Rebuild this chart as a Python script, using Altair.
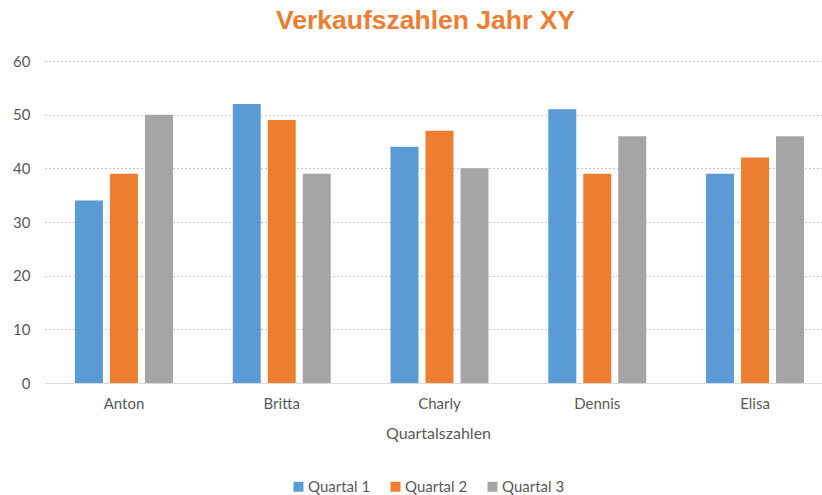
import altair as alt
import pandas as pd

names = ["Anton", "Britta", "Charly", "Dennis", "Elisa"]
quartal_1 = [34, 52, 44, 51, 39]
quartal_2 = [39, 49, 47, 39, 42]
quartal_3 = [50, 39, 40, 46, 46]
series = ["Quartal 1", "Quartal 2", "Quartal 3"]
colors = ["#5B9BD5", "#ED7D31", "#A5A5A5"]

rows = []
for s, vals in zip(series, [quartal_1, quartal_2, quartal_3]):
    for n, v in zip(names, vals):
        rows.append({"Name": n, "Serie": s, "Wert": v})
df = pd.DataFrame(rows)

FONT = "Lato"
LABEL_COLOR = "#595959"

chart = alt.Chart(df).mark_bar().encode(
    x=alt.X("Name:N", sort=names,
            scale=alt.Scale(paddingInner=0.379, paddingOuter=0.19, range=[0, 789]),
            axis=alt.Axis(title="Quartalszahlen", labelAngle=0, ticks=False,
                          domainColor="#D9D9D9", domainWidth=1,
                          labelPadding=13, titlePadding=14, titleFontWeight="normal",
                          titleFontSize=16, titleColor=LABEL_COLOR, titleX=393)),
    xOffset=alt.XOffset("Serie:N", sort=series,
                        scale=alt.Scale(paddingInner=0.2, paddingOuter=0)),
    y=alt.Y("Wert:Q", scale=alt.Scale(domain=[0, 60]),
            axis=alt.Axis(title=None, values=[0, 10, 20, 30, 40, 50, 60], domain=False,
                          ticks=False, labelPadding=15, gridDash=[1, 3],
                          gridColor="#8C8C8C", gridWidth=1)),
    color=alt.Color("Serie:N", sort=series,
                    scale=alt.Scale(domain=series, range=colors),
                    legend=alt.Legend(title=None, orient="none", direction="horizontal",
                                      legendX=246, legendY=418, symbolType="square",
                                      symbolSize=100, symbolStrokeWidth=0,
                                      labelFontSize=15, labelColor=LABEL_COLOR,
                                      labelFont=FONT, columnPadding=17, labelOffset=2)),
).properties(
    width=777,
    height=322,
    title=alt.TitleParams("Verkaufszahlen Jahr XY", font="Liberation Sans",
                          fontSize=26.5, fontWeight="bold", color="#ED7D31",
                          anchor="middle", offset=20, dx=-8),
    autosize=alt.AutoSizeParams(type="none"),
    padding={"left": 45, "top": 61, "right": 0, "bottom": 112},
).configure_view(stroke=None).configure_axis(
    labelFont=FONT, titleFont=FONT, labelFontSize=15, labelColor=LABEL_COLOR,
).configure_axisY(grid=True).configure_axisX(grid=False)

chart.save("out.html", embed_options={"renderer": "svg", "actions": False})
